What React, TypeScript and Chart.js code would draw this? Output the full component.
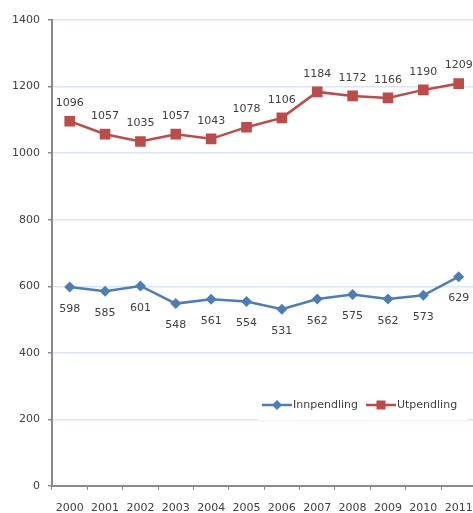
import React, { useEffect, useRef } from "react";
import { Chart, registerables } from "chart.js";

Chart.register(...registerables);

const years = ["2000", "2001", "2002", "2003", "2004", "2005", "2006", "2007", "2008", "2009", "2010", "2011"];
const innpendling = [598, 585, 601, 548, 561, 554, 531, 562, 575, 562, 573, 629];
const utpendling = [1096, 1057, 1035, 1057, 1043, 1078, 1106, 1184, 1172, 1166, 1190, 1209];
const seriesNames = ["Innpendling", "Utpendling"];
const blue = "#4a7ebb";
const red = "#be4b48";
const FONT = "'DejaVu Sans', sans-serif";
const TEXT = "#404040";
const W = 485;

const labelPlugin = {
  id: "valueLabels",
  afterDatasetsDraw(chart: any) {
    const ctx = chart.ctx;
    ctx.save();
    ctx.font = `11px ${FONT}`;
    ctx.fillStyle = TEXT;
    ctx.textAlign = "center";
    ctx.textBaseline = "middle";
    chart.data.datasets.forEach((ds: any, i: number) => {
      const meta = chart.getDatasetMeta(i);
      const off = i === 0 ? 22 : -18;
      meta.data.forEach((pt: any, j: number) => {
        ctx.fillText(String(ds.data[j]), pt.x, pt.y + off);
      });
    });
    ctx.restore();
  },
};

const legendPlugin = {
  id: "customLegend",
  afterDraw(chart: any) {
    const ctx = chart.ctx;
    ctx.save();
    ctx.fillStyle = "#ffffff";
    ctx.fillRect(258, 392, 210, 28);
    const y = 405;
    const items = [
      { x: 262, ds: chart.data.datasets[0] },
      { x: 366, ds: chart.data.datasets[1] },
    ];
    ctx.font = `11px ${FONT}`;
    ctx.textBaseline = "middle";
    ctx.textAlign = "left";
    items.forEach((it) => {
      ctx.strokeStyle = it.ds.borderColor;
      ctx.lineWidth = 2.5;
      ctx.beginPath();
      ctx.moveTo(it.x, y);
      ctx.lineTo(it.x + 30, y);
      ctx.stroke();
      ctx.fillStyle = it.ds.borderColor;
      ctx.beginPath();
      if (it.ds.pointStyle === "rectRot") {
        const r = 5;
        const cx = it.x + 15;
        ctx.moveTo(cx, y - r);
        ctx.lineTo(cx + r, y);
        ctx.lineTo(cx, y + r);
        ctx.lineTo(cx - r, y);
        ctx.closePath();
        ctx.fill();
      } else {
        ctx.fillRect(it.x + 15 - 4.5, y - 4.5, 9, 9);
      }
      ctx.fillStyle = TEXT;
      ctx.fillText(it.ds.label, it.x + 31, y);
    });
    ctx.restore();
  },
};

export default function App() {
  const ref = useRef<HTMLCanvasElement>(null);
  useEffect(() => {
    const chart = new Chart(ref.current!, {
      type: "line",
      data: {
        labels: years,
        datasets: [
          {
            label: seriesNames[0],
            data: innpendling,
            borderColor: blue,
            backgroundColor: blue,
            borderWidth: 2.5,
            pointStyle: "rectRot",
            pointRadius: 5.5,
            pointBorderWidth: 0,
            tension: 0,
          },
          {
            label: seriesNames[1],
            data: utpendling,
            borderColor: red,
            backgroundColor: red,
            borderWidth: 2.5,
            pointStyle: "rect",
            pointRadius: 7.5,
            pointBorderWidth: 0,
            tension: 0,
          },
        ],
      },
      options: {
        responsive: false,
        animation: false,
        devicePixelRatio: 1,
        layout: { padding: { top: 20, right: 0, bottom: 0, left: 0 } },
        plugins: { legend: { display: false }, tooltip: { enabled: false } },
        scales: {
          x: {
            offset: true,
            afterFit: (s: any) => {
              s.height = 27;
            },
            grid: {
              offset: true,
              drawOnChartArea: false,
              drawTicks: true,
              tickLength: 4,
              tickColor: "#8a8a8a",
              lineWidth: 1,
            },
            border: { display: true, color: "#8a8a8a", width: 2 },
            ticks: {
              color: TEXT,
              font: { family: FONT, size: 11 },
              padding: 12,
              maxRotation: 0,
              autoSkip: false,
            },
          },
          y: {
            min: 0,
            max: 1400,
            afterFit: (s: any) => {
              s.width = 52;
            },
            ticks: {
              stepSize: 200,
              color: TEXT,
              font: { family: FONT, size: 11 },
              padding: 8,
              callback: (v: any) => String(v),
            },
            grid: {
              color: "#dbe5f1",
              lineWidth: 1.5,
              tickLength: 4,
              tickColor: "#8a8a8a",
            },
            border: { display: true, color: "#8a8a8a", width: 2 },
          },
        },
      },
      plugins: [labelPlugin, legendPlugin],
    });
    return () => chart.destroy();
  }, []);
  return (
    <div style={{ position: "fixed", left: 0, top: 0, width: W, height: 513, overflow: "hidden", background: "#fff" }}>
      <canvas ref={ref} width={W} height={513} />
    </div>
  );
}
